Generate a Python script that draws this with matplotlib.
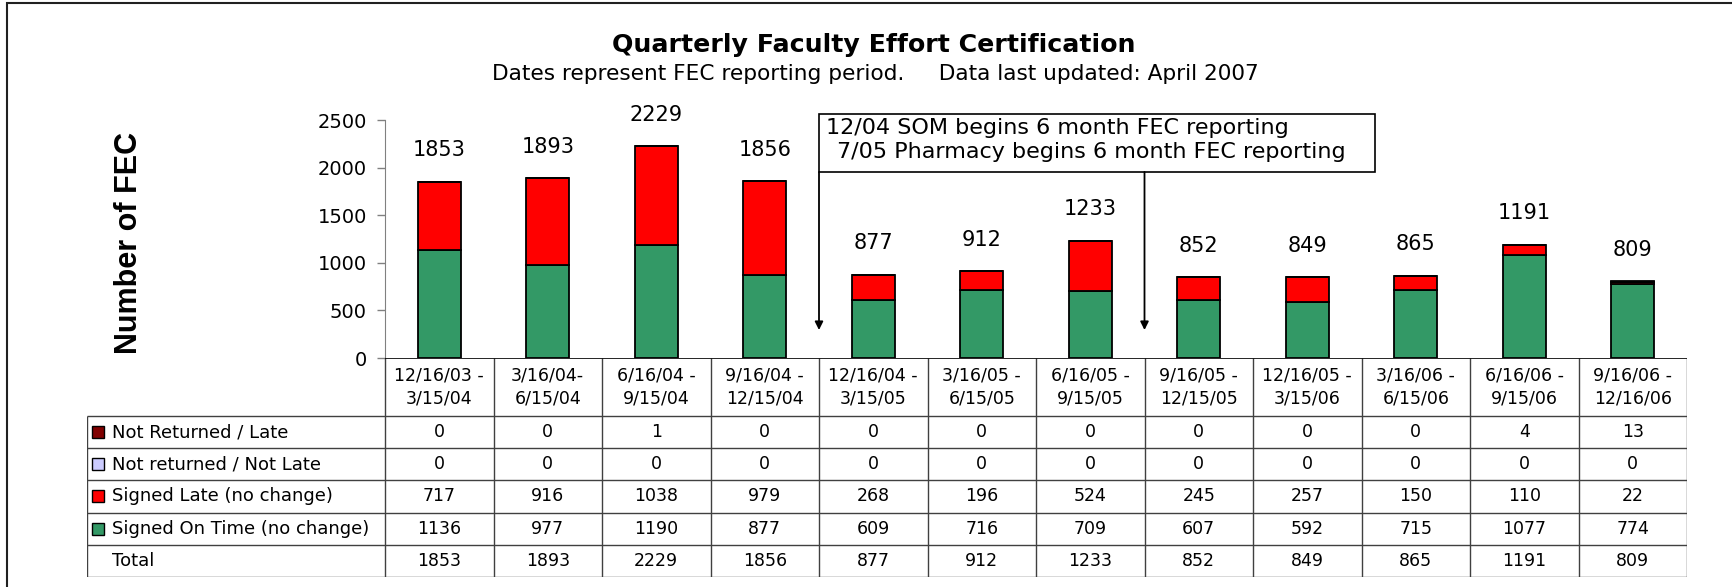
import numpy as np
import matplotlib.pyplot as plt
from matplotlib.patches import Rectangle

plt.rcParams['font.family'] = ['DejaVu Sans']

periods = ["12/16/03 -\n3/15/04", "3/16/04-\n6/15/04", "6/16/04 -\n9/15/04",
           "9/16/04 -\n12/15/04", "12/16/04 -\n3/15/05", "3/16/05 -\n6/15/05",
           "6/16/05 -\n9/15/05", "9/16/05 -\n12/15/05", "12/16/05 -\n3/15/06",
           "3/16/06 -\n6/15/06", "6/16/06 -\n9/15/06", "9/16/06 -\n12/16/06"]

not_ret_late    = [0, 0, 1, 0, 0, 0, 0, 0, 0, 0, 4, 13]
not_ret_notlate = [0, 0, 0, 0, 0, 0, 0, 0, 0, 0, 0, 0]
signed_late     = [717, 916, 1038, 979, 268, 196, 524, 245, 257, 150, 110, 22]
signed_on_time  = [1136, 977, 1190, 877, 609, 716, 709, 607, 592, 715, 1077, 774]
total           = [1853, 1893, 2229, 1856, 877, 912, 1233, 852, 849, 865, 1191, 809]

row_names = ["Not Returned / Late", "Not returned / Not Late",
             "Signed Late (no change)", "Signed On Time (no change)", "Total"]
row_colors = ["#800000", "#CCCCFF", "#FF0000", "#339966", None]

notes = ["12/04 SOM begins 6 month FEC reporting",
         "7/05 Pharmacy begins 6 month FEC reporting"]

W, H = 1732, 587
fig = plt.figure(figsize=(W/100, H/100), dpi=100)

# outer frame (only left and top visible in the original)
fig.patches.append(Rectangle((7/W, -0.1), 1.2, 1 - 3/H + 0.1, transform=fig.transFigure,
                             fill=False, edgecolor="#202020", lw=1.5))

ax = fig.add_axes([385/W, 1-358/H, 1302/W, 238/H])
tb = fig.add_axes([87/W, 1-577/H, 1600/W, 219/H])

x = np.arange(len(periods))
bw = 0.4
s1 = np.array(signed_on_time)
s2 = np.array(signed_late)
s3 = np.array(not_ret_notlate)
s4 = np.array(not_ret_late)
ax.bar(x, s1, bw, color=row_colors[3], edgecolor="black", lw=1.3, zorder=3)
ax.bar(x, s2, bw, bottom=s1, color=row_colors[2], edgecolor="black", lw=1.3, zorder=3)
ax.bar(x, s3, bw, bottom=s1+s2, color=row_colors[1], edgecolor="black", lw=1.3, zorder=3)
ax.bar(x, s4, bw, bottom=s1+s2+s3, color=row_colors[0], edgecolor="black", lw=1.3, zorder=3)

for i, t in enumerate(total):
    ax.annotate(str(t), (i, t), xytext=(0, 22.5), textcoords="offset points",
                ha="center", va="center", fontsize=15)

ax.set_xlim(-0.5, 11.5)
ax.set_ylim(0, 2500)
ax.set_yticks([0, 500, 1000, 1500, 2000, 2500])
ax.set_xticks([])
ax.tick_params(axis="y", labelsize=14, length=6, width=1, color="#808080", pad=7)
for sp in ["top", "right", "bottom"]:
    ax.spines[sp].set_visible(False)
ax.spines["left"].set_color("#808080")
ax.patch.set_alpha(0)

# annotation box and arrows
ax.add_patch(Rectangle((3.5, 1954), 5.12, 609, fill=False, edgecolor="black",
                       lw=1.2, clip_on=False, zorder=5))
ax.text(3.565, 2416, notes[0], fontsize=16, va="center", ha="left")
ax.text(3.67, 2164, notes[1], fontsize=16, va="center", ha="left")
for xa in [3.5, 6.5]:
    ax.annotate("", xy=(xa, 294), xytext=(xa, 1954),
                arrowprops=dict(arrowstyle="-|>", color="black", lw=1.3,
                                mutation_scale=12, shrinkA=0, shrinkB=0))

fig.text(874/W, 1-45/H, "Quarterly Faculty Effort Certification", ha="center",
         va="center", fontsize=18.2, fontweight="bold")
fig.text(875/W, 1-74/H, "Dates represent FEC reporting period.     Data last updated: April 2007",
         ha="center", va="center", fontsize=15.6)
fig.text(129/W, 1-243/H, "Number of FEC", rotation=90, ha="center", va="center",
         fontsize=22, fontweight="bold", family="Liberation Sans")

# data table below the axis
lab_w = 298/108.5
x0 = -0.5 - lab_w
tb.set_xlim(x0, 11.5)
tb.set_ylim(5, -1.8)
tb.axis("off")
lc = "#404040"
tb.hlines(np.arange(0, 6), x0, 11.5, color=lc, lw=1)
tb.vlines(np.arange(13) - 0.5, -1.8, 5, color=lc, lw=1)
tb.vlines([x0], 0, 5, color=lc, lw=1)
tb.hlines([-1.8], -0.5, 11.5, color="black", lw=1.2)

for i, p in enumerate(periods):
    tb.text(i, -0.9, p, ha="center", va="center", fontsize=12.5, linespacing=1.35)

rows = [not_ret_late, not_ret_notlate, signed_late, signed_on_time, total]
for r, vals in enumerate(rows):
    for i, v in enumerate(vals):
        tb.text(i, r + 0.5, str(v), ha="center", va="center", fontsize=12.5)
    tb.text(x0 + 0.23, r + 0.5, row_names[r], ha="left", va="center", fontsize=13)
    if row_colors[r] is not None:
        tb.add_patch(Rectangle((x0 + 0.046, r + 0.31), 0.11, 0.373,
                               facecolor=row_colors[r], edgecolor="black", lw=1))

fig.savefig("out.png", dpi=100)
